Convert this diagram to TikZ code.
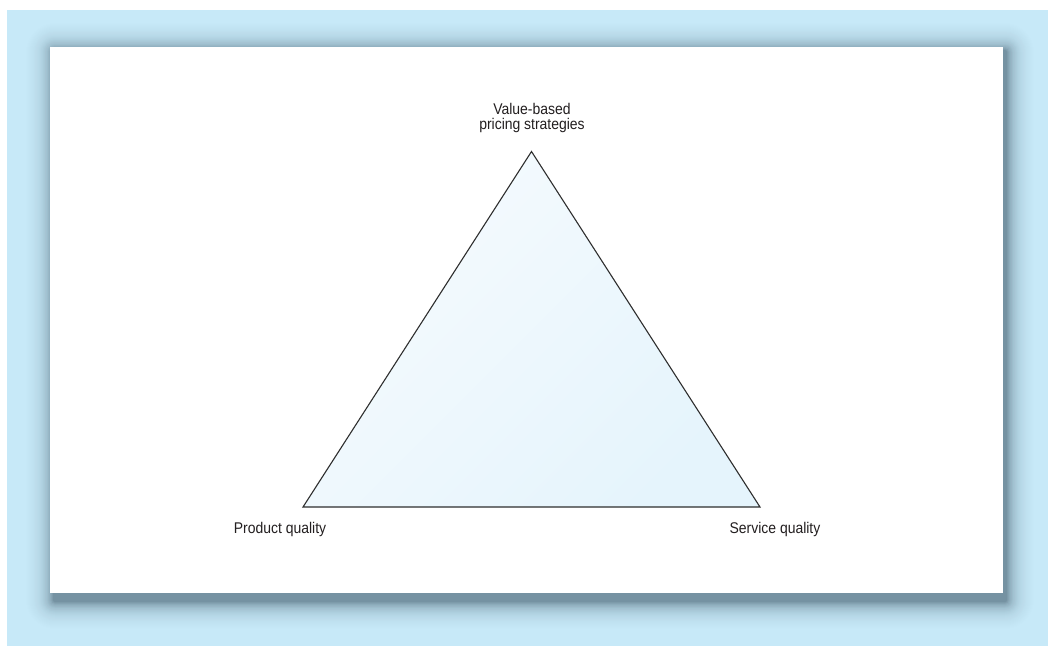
\documentclass[tikz,border=0pt]{standalone}
\usepackage{fontspec}
\setmainfont{Liberation Sans}[FakeStretch=0.9]
\definecolor{bgblue}{HTML}{C7E9F8}
\definecolor{shadowc}{HTML}{7590A0}
\definecolor{triA}{HTML}{F6FBFE}
\definecolor{triB}{HTML}{E5F4FC}
\definecolor{edgec}{HTML}{2E2E2E}
\definecolor{txtc}{HTML}{231F20}
\tikzset{
  lbl/.style={inner sep=0pt, text=txtc, font=\fontsize{15.5}{15.5}\selectfont, align=center},
  tri/.style={draw=edgec, line width=1.1pt, line join=miter, left color=triA, right color=triB, shading angle=45}
}
\begin{document}
\begin{tikzpicture}[x=1pt,y=-1pt]
\useasboundingbox (0,0) rectangle (1048,646);
% background
\fill[white] (0,0) rectangle (1048,646);
\fill[bgblue] (7,10) rectangle (1048,646);
% blurred shadow (layered)
\foreach \k in {0,...,27}{
  \pgfmathsetmacro\pp{1-(1-0.8*exp(-\k/8.5))/(1-0.8*exp(-(\k+1)/8.5))}
  \pgfmathsetmacro\rr{\k+2}
  \fill[shadowc, opacity=\pp, rounded corners=\rr pt] (53-\k,50-\k) rectangle (1007+\k,602+\k);
}
% card
\fill[white] (50,47) rectangle (1003,593);
% triangle
\coordinate (apex) at (531.5,151.5);
\coordinate (pq) at (303,507);
\coordinate (sq) at (760,507);
\path[tri] (apex) -- (pq) -- (sq) -- cycle;
% labels
\node[lbl, anchor=north] (vbp) at (532,103) {Value-based\\pricing strategies};
\node[lbl, anchor=base] (pql) at (280,533) {Product quality};
\node[lbl, anchor=base] (sql) at (775,533) {Service quality};
\end{tikzpicture}
\end{document}
